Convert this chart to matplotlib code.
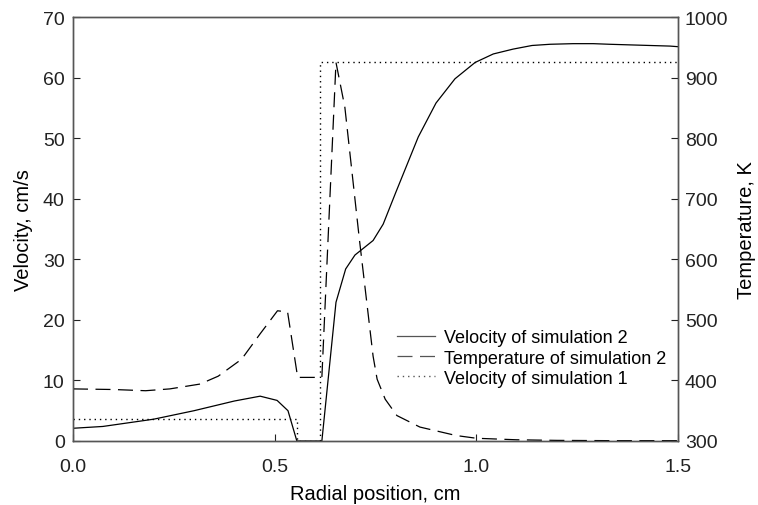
import matplotlib
matplotlib.use('Agg')
import matplotlib.pyplot as plt

plt.rcParams['font.family'] = ['Liberation Sans', 'DejaVu Sans']
plt.rcParams['font.size'] = 14

# velocity of simulation 2 (cm/s)
x_v2 = [0.0, 0.074, 0.2, 0.3, 0.4, 0.464, 0.506, 0.533, 0.555, 0.617, 0.652, 0.676, 0.699,
        0.744, 0.769, 0.80, 0.856, 0.900, 0.947, 0.997, 1.042, 1.091, 1.138, 1.183,
        1.24, 1.29, 1.33, 1.38, 1.43, 1.48, 1.5]
v2 = [2.1, 2.4, 3.6, 5.0, 6.6, 7.4, 6.7, 5.0, 0.0, 0.0, 22.9, 28.4, 30.7,
      33.1, 35.8, 41.0, 50.2, 55.8, 59.8, 62.5, 63.9, 64.7, 65.3, 65.5,
      65.6, 65.6, 65.5, 65.4, 65.3, 65.2, 65.1]

# temperature of simulation 2 (K)
x_t2 = [0.0, 0.1, 0.18, 0.24, 0.315, 0.36, 0.418, 0.464, 0.507, 0.532, 0.557, 0.617,
        0.652, 0.674, 0.71, 0.744, 0.754, 0.774, 0.803, 0.86, 0.95, 1.0, 1.1, 1.2, 1.35, 1.5]
t2 = [386, 385, 383, 386, 394, 407, 435, 477, 515, 513, 405, 405,
      925, 851, 633, 440, 402, 369, 342, 323, 309, 304.5, 302, 301, 300.5, 300.5]

# velocity of simulation 1 (cm/s)
x_v1 = [0.0, 0.555, 0.555, 0.612, 0.612, 1.5]
v1 = [3.6, 3.6, 0.0, 0.0, 62.5, 62.5]

fig = plt.figure(figsize=(7.58, 5.06), dpi=100)
ax = fig.add_axes([0.0963, 0.1265, 0.7982, 0.8379])
ax2 = ax.twinx()

l1, = ax.plot(x_v2, v2, color='black', lw=0.9, label='Velocity of simulation 2')
l2, = ax2.plot(x_t2, t2, color='black', lw=0.9, dashes=(12, 6), label='Temperature of simulation 2')
l3, = ax.plot(x_v1, v1, color='black', lw=1.0, dashes=(1, 2.8), label='Velocity of simulation 1')

ax.set_xlim(0, 1.5)
ax.set_ylim(0, 70)
ax2.set_ylim(300, 1000)
ax.set_xticks([0.0, 0.5, 1.0, 1.5])
ax.set_xticklabels(['0.0', '0.5', '1.0', '1.5'])
ax.set_yticks(range(0, 71, 10))
ax2.set_yticks(range(300, 1001, 100))

ax.set_xlabel('Radial position, cm', fontsize=14.5, labelpad=7)
ax.set_ylabel('Velocity, cm/s', fontsize=14.5, labelpad=7)
ax2.set_ylabel('Temperature, K', fontsize=14.5, labelpad=6)

for a in (ax, ax2):
    a.tick_params(direction='in', length=5, width=0.8, colors='#222222', labelsize=14)
    for s in a.spines.values():
        s.set_color('#555555')
        s.set_linewidth(1.0)
ax.tick_params(axis='x', pad=12)
ax.tick_params(axis='y', pad=6)
ax2.tick_params(axis='y', pad=5)

leg = ax.legend(handles=[l1, l2, l3], loc='upper left', bbox_to_anchor=(0.5355, 0.263),
                frameon=False, borderpad=0, borderaxespad=0, handlelength=2.1,
                handletextpad=0.5, labelspacing=0.17, fontsize=13)
for h in leg.get_lines():
    h.set_color('#555555')

fig.savefig('out.png', dpi=100)
